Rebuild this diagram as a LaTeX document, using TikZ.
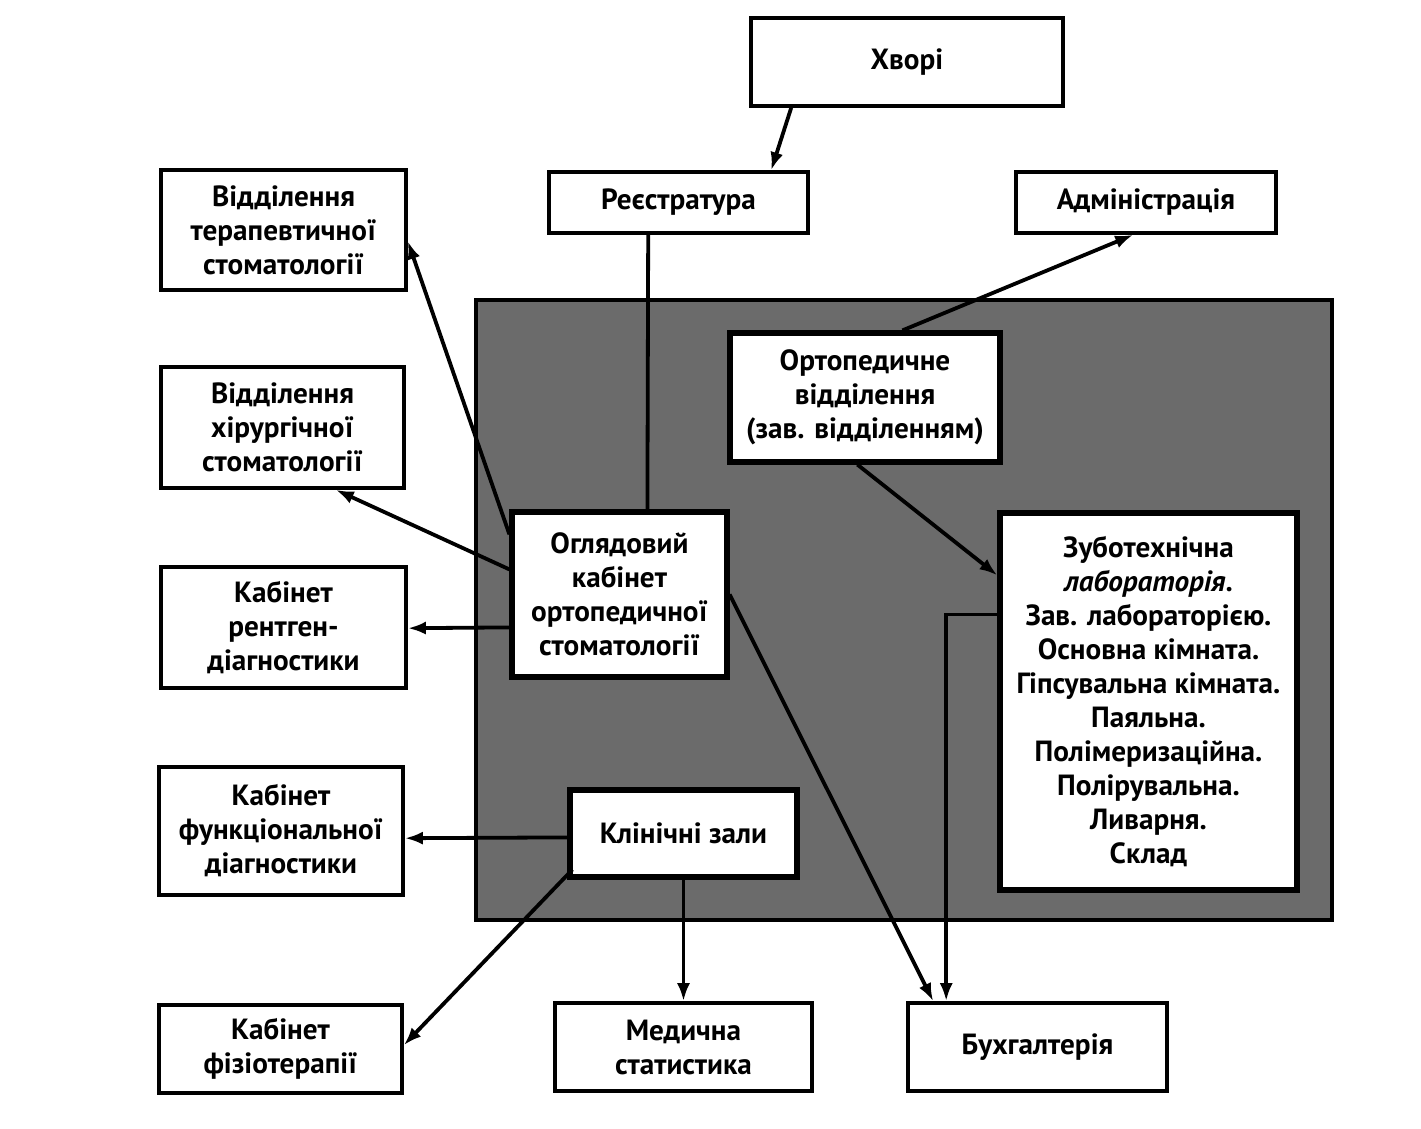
\documentclass[tikz,border=0pt]{standalone}
\usepackage{fontspec}
\setmainfont{PT Sans}
\usetikzlibrary{arrows.meta,calc}
\tikzset{
  box/.style={draw, line width=1.8pt, fill=white, align=center, inner sep=0pt,
    font=\fontsize{14.6pt}{17pt}\selectfont\bfseries},
  inbox/.style={box, line width=2.6pt},
  zone/.style={draw, line width=2.2pt, fill=black!58, inner sep=0pt},
  arr/.style={line width=1.9pt, -{Latex[length=9pt,width=6.5pt]}},
  conn/.style={line width=1.9pt}
}
\begin{document}
\begin{tikzpicture}[x=0.5pt,y=-0.5pt]
\useasboundingbox (0,0) rectangle (1421,1129);
% shaded department zone
\node[zone, minimum width=428pt, minimum height=310pt] (dep) at (904,610) {};
% outer boxes
\node[box, minimum width=156pt, minimum height=44pt] (hv) at (907,62) {Хворі};
\node[box, minimum width=129.5pt, minimum height=30.5pt] (reg) at (678.5,202.5) {Реєстратура};
\node[box, minimum width=130pt, minimum height=30.5pt] (adm) at (1146,202.5) {Адміністрація};
\node[box, minimum width=122.5pt, minimum height=60pt] (ter) at (283.5,230) {Відділення\\терапевтичної\\стоматології};
\node[box, minimum width=121.5pt, minimum height=60.5pt] (hir) at (282.5,427.5) {Відділення\\хірургічної\\стоматології};
\node[box, minimum width=122.5pt, minimum height=60.5pt] (rent) at (283.5,627.5) {Кабінет\\рентген-\\діагностики};
\node[box, minimum width=122pt, minimum height=64pt] (fun) at (281,831) {Кабінет\\функціональної\\діагностики};
\node[box, minimum width=121.5pt, minimum height=44pt] (fiz) at (280.5,1049) {Кабінет\\фізіотерапії};
\node[box, minimum width=128.5pt, minimum height=44pt] (med) at (683.5,1047) {Медична\\статистика};
\node[box, minimum width=129.5pt, minimum height=44pt] (buh) at (1037.5,1047) {Бухгалтерія};
% inner boxes
\node[inbox, minimum width=135pt, minimum height=64.5pt] (ort) at (865,397.5) {Ортопедичне\\відділення\\(зав. відділенням)};
\node[inbox, minimum width=107.5pt, minimum height=82.5pt] (ogl) at (619.5,594.5) {Оглядовий\\кабінет\\ортопедичної\\стоматології};
\node[inbox, minimum width=113.5pt, minimum height=43.5pt] (kl) at (683.5,833.5) {Клінічні зали};
\node[inbox, minimum width=148.5pt, minimum height=188.5pt] (zub) at (1148.5,701.5) {Зуботехнічна\\{\itshape лабораторія}.\\Зав. лабораторією.\\Основна кімната.\\Гіпсувальна кімната.\\Паяльна.\\Полімеризаційна.\\Полірувальна.\\Ливарня.\\Склад};
% connectors
\draw[arr] ($(hv.south west)+(42,0)$) -- ($(reg.north west)+(224,0)$);
\draw[conn] ($(reg.south west)+(101,0)$) -- ($(ogl.north west)+(138,0)$);
\draw[arr] ($(ort.north west)+(175,0)$) -- ($(adm.south west)+(119,0)$);
\draw[arr] ($(ort.south west)+(130,0)$) -- ($(zub.north west)+(0,65)$);
\draw[arr] ($(ogl.north west)+(0,25)$) -- ($(ter.north east)+(0,73)$);
\draw[arr] ($(ogl.north west)+(0,60)$) -- ($(hir.south east)+(-70,0)$);
\draw[arr] ($(ogl.north west)+(0,118)$) -- ($(rent.north east)+(0,63)$);
\draw[arr] ($(ogl.north east)+(0,85)$) -- ($(buh.north west)+(27,0)$);
\draw[arr] ($(zub.north west)+(0,104)$) -| ($(buh.north west)+(40,0)$);
\draw[arr] ($(kl.north west)+(0,50)$) -- ($(fun.north east)+(0,73)$);
\draw[arr] ($(kl.south west)+(5,-10)$) -- ($(fiz.north east)+(0,42)$);
\draw[arr] (kl.south) -- (med.north);
\end{tikzpicture}
\end{document}
